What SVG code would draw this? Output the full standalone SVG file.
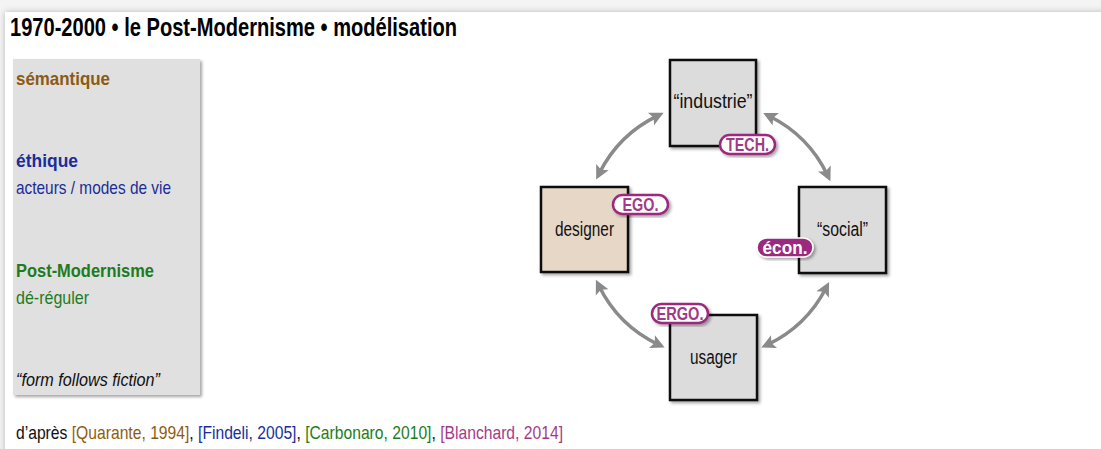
<svg xmlns="http://www.w3.org/2000/svg" width="1101" height="449" viewBox="0 0 1101 449">
<defs>
<style>
text{font-family:"Liberation Sans Narrow","Liberation Sans",Arial,sans-serif}
.title{font-size:26px;font-weight:bold;fill:#000}
.side{font-size:19px}
.b{font-weight:bold}
.brown{fill:#8b5a14}
.blue{fill:#1b2d99}
.green{fill:#1e7b1e}
.mag{fill:#a03a86}
.blk{fill:#111}
.lbl{font-size:20px;fill:#111;text-anchor:middle}
.box{stroke:#111;stroke-width:2.5}
.grey{fill:#dcdcdc}
.beige{fill:#e6d7c7}
.pill{fill:#fff;stroke:#9b2a7f;stroke-width:2.5}
.pillf{fill:#9b2a7f;stroke:#fff;stroke-width:1.5}
.bt{font-size:18px;font-weight:bold;text-anchor:middle}
.conn{fill:none;stroke:#8a8a8a;stroke-width:3.5;marker-start:url(#ah);marker-end:url(#ah)}
</style>
<linearGradient id="refcol" gradientUnits="userSpaceOnUse" x1="16" y1="0" x2="563" y2="0">
<stop offset="0" stop-color="#111"/>
<stop offset="0.0978" stop-color="#111"/>
<stop offset="0.0978" stop-color="#8b5a14"/>
<stop offset="0.3172" stop-color="#8b5a14"/>
<stop offset="0.3172" stop-color="#111"/>
<stop offset="0.3291" stop-color="#111"/>
<stop offset="0.3291" stop-color="#1b2d99"/>
<stop offset="0.5132" stop-color="#1b2d99"/>
<stop offset="0.5132" stop-color="#111"/>
<stop offset="0.5247" stop-color="#111"/>
<stop offset="0.5247" stop-color="#1e7b1e"/>
<stop offset="0.7600" stop-color="#1e7b1e"/>
<stop offset="0.7600" stop-color="#111"/>
<stop offset="0.7715" stop-color="#111"/>
<stop offset="0.7715" stop-color="#a03a86"/>
<stop offset="1" stop-color="#a03a86"/>
</linearGradient>
<filter id="sh" x="-20%" y="-20%" width="140%" height="140%">
<feDropShadow dx="2" dy="2" stdDeviation="1.5" flood-color="#000" flood-opacity="0.35"/>
</filter>
<filter id="psh" x="-5%" y="-5%" width="110%" height="110%">
<feDropShadow dx="0" dy="0" stdDeviation="3" flood-color="#000" flood-opacity="0.25"/>
</filter>
<marker id="ah" markerUnits="userSpaceOnUse" markerWidth="16" markerHeight="16" viewBox="0 0 16 16" refX="8" refY="8" orient="auto-start-reverse">
<path d="M1,1 L15,8 L1,15 L4,8 z" fill="#8a8a8a"/>
</marker>
</defs>
<rect x="0" y="0" width="1101" height="449" fill="#f4f4f4"/>
<rect x="5" y="12" width="1110" height="450" fill="#fff" filter="url(#psh)"/>
<text class="title" x="10" y="36" textLength="447" lengthAdjust="spacingAndGlyphs">1970-2000 • le Post-Modernisme • modélisation</text>

<g id="panel">
<rect x="13" y="59" width="187" height="336" fill="#e0e0e0" filter="url(#sh)"/>
<text class="side b brown" x="16" y="85" textLength="94" lengthAdjust="spacingAndGlyphs">sémantique</text>
<text class="side b blue" x="16" y="167" textLength="62" lengthAdjust="spacingAndGlyphs">éthique</text>
<text class="side blue" x="16" y="194" textLength="155" lengthAdjust="spacingAndGlyphs">acteurs / modes de vie</text>
<text class="side b green" x="16" y="277" textLength="138" lengthAdjust="spacingAndGlyphs">Post-Modernisme</text>
<text class="side green" x="16" y="304" textLength="73" lengthAdjust="spacingAndGlyphs">dé-réguler</text>
<text class="side blk" x="16" y="386" font-style="italic" textLength="144" lengthAdjust="spacingAndGlyphs">“form follows fiction”</text>
</g>

<g id="connectors">
<path class="conn" d="M599.3,173.3 A127,127 0 0 1 657.3,115.9"/>
<path class="conn" d="M769.5,116.2 A127,127 0 0 1 827.4,174.9"/>
<path class="conn" d="M825.9,288.3 A127,127 0 0 1 767.7,344.6"/>
<path class="conn" d="M658.3,344.6 A127,127 0 0 1 599.0,286.1"/>
</g>

<g id="industrie">
<rect class="box grey" x="670" y="60" width="86" height="86" filter="url(#sh)"/>
<text class="lbl" x="713" y="108" textLength="79" lengthAdjust="spacingAndGlyphs">“industrie”</text>
</g>
<g id="designer">
<rect class="box beige" x="541" y="187" width="87" height="85" filter="url(#sh)"/>
<text class="lbl" x="584.5" y="236" textLength="59" lengthAdjust="spacingAndGlyphs">designer</text>
</g>
<g id="social">
<rect class="box grey" x="799" y="187" width="87" height="86" filter="url(#sh)"/>
<text class="lbl" x="842.5" y="236" textLength="51" lengthAdjust="spacingAndGlyphs">“social”</text>
</g>
<g id="usager">
<rect class="box grey" x="670" y="315" width="87" height="85" filter="url(#sh)"/>
<text class="lbl" x="713.5" y="364" textLength="47" lengthAdjust="spacingAndGlyphs">usager</text>
</g>

<g id="tech">
<rect class="pill" x="720" y="135" width="55" height="19" rx="9.5" filter="url(#sh)"/>
<text class="bt mag" x="747.5" y="151" textLength="43" lengthAdjust="spacingAndGlyphs">TECH.</text>
</g>
<g id="ego">
<rect class="pill" x="613" y="195" width="55" height="19" rx="9.5" filter="url(#sh)"/>
<text class="bt mag" x="640.5" y="211" textLength="36" lengthAdjust="spacingAndGlyphs">EGO.</text>
</g>
<g id="econ">
<rect class="pillf" x="757" y="238" width="56" height="19" rx="9.5" filter="url(#sh)"/>
<text class="bt" fill="#fff" x="785" y="254" textLength="45" lengthAdjust="spacingAndGlyphs">écon.</text>
</g>
<g id="ergo">
<rect class="pill" x="652" y="304" width="56" height="19" rx="9.5" filter="url(#sh)"/>
<text class="bt mag" x="680" y="320" textLength="47" lengthAdjust="spacingAndGlyphs">ERGO.</text>
</g>

<text id="refs" class="side" x="16" y="439" fill="url(#refcol)" textLength="547" lengthAdjust="spacingAndGlyphs">d’après [Quarante, 1994], [Findeli, 2005], [Carbonaro, 2010], [Blanchard, 2014]</text>
</svg>
